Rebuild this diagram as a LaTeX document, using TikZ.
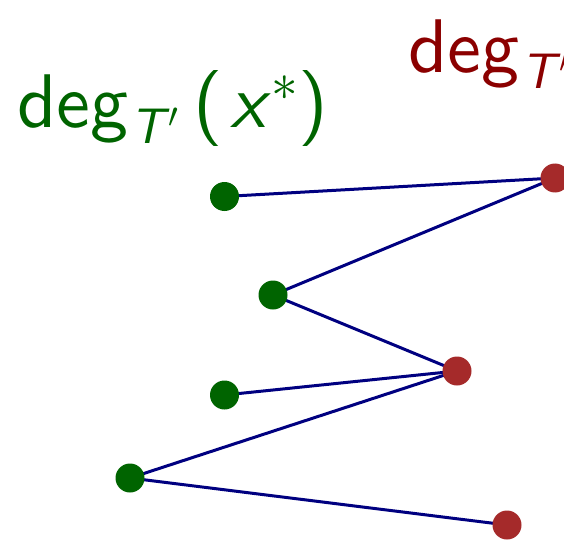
\RequirePackage{fix-cm}
\documentclass[tikz,border=0pt]{standalone}
\usepackage{fontspec}
\setsansfont{lmsans10-regular}[Extension=.otf, ItalicFont=lmsans10-oblique]
\definecolor{lblgreen}{HTML}{006400}
\definecolor{lblred}{HTML}{8B0000}
\definecolor{dotgreen}{HTML}{006400}
\definecolor{dotred}{HTML}{A52A2A}
\definecolor{edgeblue}{HTML}{000080}
\newcommand{\primesym}{\raisebox{16pt}{\fontsize{35}{36}\selectfont$\prime$}}
\newcommand{\deglab}[1]{\fontsize{76}{80}\selectfont\sffamily deg\kern2pt\raisebox{-16pt}{\fontsize{50}{52}\selectfont\itshape T\kern4pt\primesym}\kern16pt(\kern7pt\textit{#1}$^{\ast}$)}
\tikzset{
  gdot/.style={circle,fill=dotgreen,minimum size=29pt,inner sep=0pt},
  rdot/.style={circle,fill=dotred,minimum size=29pt,inner sep=0pt},
  edge/.style={edgeblue,line width=3pt},
  lbl/.style={anchor=base west,inner sep=0pt}
}
\begin{document}
\begin{tikzpicture}[x=1pt,y=-1pt]
\useasboundingbox (0,0) rectangle (564,540);
\node[lbl,text=lblgreen] (lg) at (17,128) {\deglab{x}};
\node[lbl,text=lblred] (lr) at (408,73) {\deglab{y}};
\draw[edge] (224.5,196.5) coordinate (g1) -- (555,178) coordinate (r1);
\draw[edge] (r1) -- (273,295) coordinate (g2);
\draw[edge] (g2) -- (457,371) coordinate (r2);
\draw[edge] (224.5,395) coordinate (g3) -- (r2);
\draw[edge] (r2) -- (130,478) coordinate (g4);
\draw[edge] (g4) -- (507,525) coordinate (r3);
\node[gdot] (n1) at (g1) {};
\node[gdot] (n2) at (g2) {};
\node[gdot] (n3) at (g3) {};
\node[gdot] (n4) at (g4) {};
\node[rdot] (m1) at (r1) {};
\node[rdot] (m2) at (r2) {};
\node[rdot] (m3) at (r3) {};
\end{tikzpicture}
\end{document}
